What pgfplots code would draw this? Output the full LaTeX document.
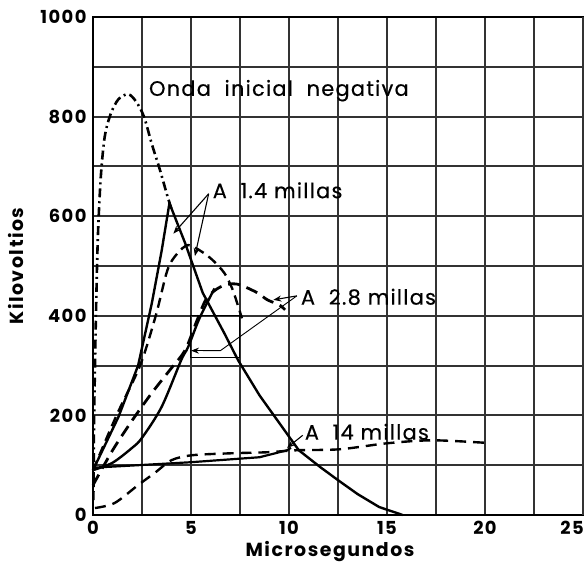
\documentclass[border=0pt]{standalone}
\usepackage{pgfplots}
\pgfplotsset{compat=1.18}
\usepackage{fontspec}
\setmainfont{Poppins}
\newfontfamily\annfont{Poppins}[FakeBold=0.4, LetterSpace=6]
\newfontfamily\tickfont{Poppins}[LetterSpace=8]
\usetikzlibrary{arrows.meta}
\begin{document}
\begin{tikzpicture}
\begin{axis}[name=ax,
  scale only axis, width=490bp, height=498bp,
  xmin=0, xmax=25, ymin=0, ymax=1000,
  xtick={0,5,...,20}, ytick={0,200,...,1000},
  extra x ticks={25},
  extra x tick style={xticklabel style={xshift=-11pt}},
  minor xtick={2.5,7.5,...,22.5}, minor ytick={100,300,...,900},
  grid=both,
  major grid style={black!80, line width=2pt},
  minor grid style={black!80, line width=2pt},
  axis line style={black, line width=2.2pt},
  major tick length=0pt, minor tick length=0pt,
  /pgf/number format/assume math mode=true,
  /pgf/number format/1000 sep={},
  ticklabel style={font=\tickfont\fontsize{18}{19}\selectfont\bfseries},
  xticklabel style={yshift=-3pt},
  yticklabel style={xshift=-3pt},
  xlabel={Microsegundos}, ylabel={Kilovoltios},
  label style={font=\tickfont\fontsize{19}{20}\selectfont\bfseries},
  xlabel style={yshift=0pt, xshift=-8pt},
  ylabel style={yshift=10pt},
  clip=false,
]
% Onda inicial negativa
\addplot[black, line width=2.6pt, dash pattern=on 9pt off 4pt on 2pt off 4pt, smooth, tension=0.5] coordinates {
(0.02,30) (0.06,200) (0.15,400) (0.25,560) (0.4,680) (0.6,760) (0.9,805) (1.3,835) (1.8,845) (2.2,830) (2.6,800) (3.0,745) (3.4,695) (3.8,640) (4.0,615)};
% A 1.4 millas (solid)
\addplot[black, line width=2.4pt] coordinates {
(0,90) (1.3,197) (2.3,300) (3.0,425) (3.5,530) (3.9,626) (4.7,546) (5.6,446) (6.7,365) (7.4,311) (8.5,240) (9.5,185) (10.5,130) (11.6,96) (12.5,70) (13.5,42) (14.6,16) (15.8,0)};
% A 1.4 millas (dashed)
\addplot[black, line width=2.4pt, dash pattern=on 10pt off 6pt, smooth, tension=0.5] coordinates {
(0,90) (1.2,200) (2.4,300) (3.2,400) (3.8,492) (4.3,525) (4.85,542) (5.5,530) (6.1,512) (6.7,486) (7.1,455) (7.4,420) (7.6,395)};
% A 2.8 millas (solid)
\addplot[black, line width=2.4pt, smooth, tension=0.5] coordinates {
(0,90) (1,105) (2,135) (2.5,155) (3.5,217) (4.5,311) (4.85,337) (5.4,392) (5.9,432) (6.2,455)};
% A 2.8 millas (dashed)
\addplot[black, line width=2.8pt, dash pattern=on 12pt off 7pt, smooth, tension=0.5] coordinates {
(0,60) (1,130) (2,190) (3,245) (4,295) (4.7,331) (5.3,390) (5.8,435) (6.5,458) (7.3,464) (8.3,448) (8.9,432) (9.5,422) (9.8,412)};
% A 14 millas (dashed)
\addplot[black, line width=2.4pt, dash pattern=on 11pt off 7pt, smooth, tension=0.5] coordinates {
(0.1,14) (1.1,24) (2.3,60) (3.2,86) (4,110) (5.05,120) (7.1,124) (8.9,126) (10.4,130) (12.6,132) (15,144) (17.3,150) (20,145)};
% A 14 millas (solid)
\addplot[black, line width=2.2pt] coordinates {
(0,95) (2.3,100) (5,106) (8.5,116) (9.9,130) (10.1,135)};
% annotations
\node[anchor=west, font=\annfont\fontsize{21}{22}\selectfont, inner sep=0pt] at (axis cs:2.85,852) {Onda\ \ inicial\ \ negativa};
\node[anchor=west, font=\annfont\fontsize{21}{22}\selectfont, inner sep=0pt] at (axis cs:6.1,652) {A\ \ 1.4\ millas};
\node[anchor=west, font=\annfont\fontsize{21}{22}\selectfont, inner sep=0pt] at (axis cs:10.6,438) {A\ \ 2.8\ millas};
\node[anchor=west, font=\annfont\fontsize{21}{22}\selectfont, inner sep=0pt] at (axis cs:10.8,167) {A\ \ 14\ millas};
\draw[black, line width=1.1pt, -{Stealth[length=8pt]}] (axis cs:5.9,645) -- (axis cs:4.1,565);
\draw[black, line width=1.1pt, -{Stealth[length=8pt]}] (axis cs:5.9,645) -- (axis cs:5.2,520);
\draw[black, line width=1.1pt, -{Stealth[length=8pt]}] (axis cs:10.4,440) -- (axis cs:9.2,432);
\draw[black, line width=0.9pt] (axis cs:10.4,440) -- (axis cs:6.5,330) -- (axis cs:5.6,330);
\draw[black, line width=1.1pt, -{Stealth[length=8pt]}] (axis cs:5.6,330) -- (axis cs:5.0,330);
\draw[black, line width=0.9pt] (axis cs:4.95,317) rectangle (axis cs:7.45,400);
\draw[black, line width=1.1pt, -{Stealth[length=8pt]}] (axis cs:10.7,160) -- (axis cs:9.9,135);
\end{axis}
\pgfresetboundingbox
\path[use as bounding box] ([xshift=-93bp,yshift=-55bp]ax.south west) rectangle ([xshift=3bp,yshift=17bp]ax.north east);
\end{tikzpicture}
\end{document}
